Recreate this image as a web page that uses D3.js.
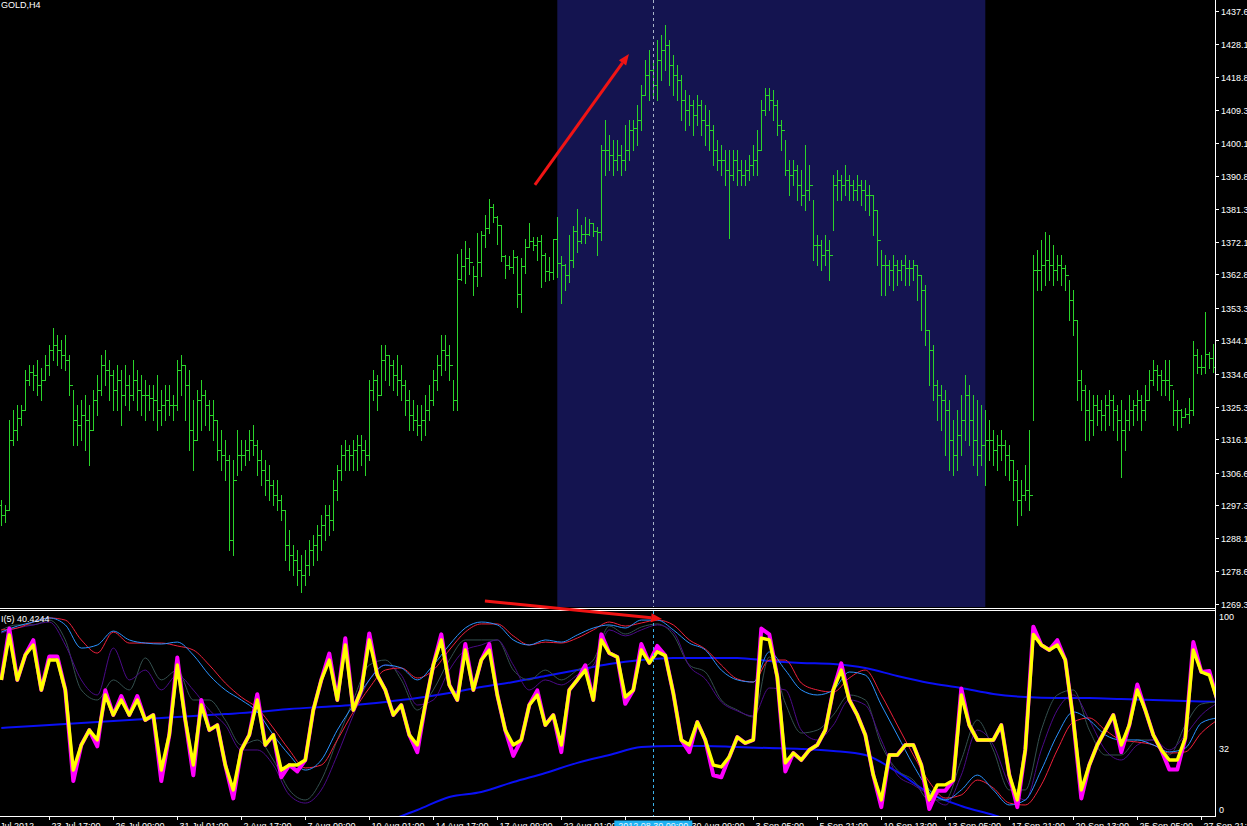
<!DOCTYPE html>
<html>
<head>
<meta charset="utf-8">
<script src="https://cdn.jsdelivr.net/npm/d3@7"></script>
<style>
html, body { margin: 0; padding: 0; background: #000; overflow: hidden; }
svg { display: block; }
text { font-family: "Liberation Sans", Arial, sans-serif; font-size: 9px; fill: #fff; }
</style>
</head>
<body>
<svg id="chart" width="1247" height="826"></svg>
<script>
const symbolTitle = "GOLD,H4";
const indicatorTitle = "I(5) 40.4244";
const crosshairLabel = "2012.08.30 09:00";

const priceTicks = ["1437.6","1428.1","1418.8","1409.3","1400.1","1390.8","1381.3","1372.1","1362.8",
  "1353.3","1344.1","1334.6","1325.3","1316.1","1306.6","1297.3","1288.1","1278.6","1269.3"];
const levelTicks = [100, 32, 0];

const timeLabels = ["19 Jul 2012","23 Jul 17:00","26 Jul 09:00","31 Jul 01:00","2 Aug 17:00","7 Aug 09:00",
  "10 Aug 01:00","14 Aug 17:00","17 Aug 09:00","22 Aug 01:00","27 Aug 17:00","30 Aug 09:00","3 Sep 05:00",
  "5 Sep 21:00","10 Sep 13:00","13 Sep 05:00","17 Sep 21:00","20 Sep 13:00","25 Sep 05:00","27 Sep 21:00"];
const timeTickBars = [-4,12,28,44,60,76,92,108,124,140,156,172,188,204,220,236,252,268,284,300];

const firstOpen = 1297.4;
const barHigh = [
1298.8,1297.4,1321.5,1324.3,1325.7,1325.7,1335.7,1337.1,1337.1,1338.5,
1336.2,1339.9,1342.8,1347.6,1345.6,1344.2,1345.6,1339.9,1330.0,1325.7,
1327.2,1328.6,1325.7,1330.0,1334.3,1339.9,1341.3,1338.5,1335.7,1337.1,
1335.7,1337.1,1334.3,1338.5,1335.7,1334.3,1332.8,1331.4,1331.4,1334.3,
1330.0,1331.4,1331.4,1328.6,1338.5,1339.9,1337.1,1335.7,1327.2,1330.0,
1332.8,1330.0,1327.2,1327.2,1321.5,1318.6,1315.8,1311.6,1310.1,1318.6,
1315.8,1315.8,1318.6,1320.1,1315.8,1313.0,1310.1,1308.7,1304.5,1304.5,
1300.2,1296.0,1290.3,1286.0,1284.6,1283.2,1284.6,1287.4,1288.9,1291.7,
1294.5,1297.4,1297.4,1304.5,1308.7,1314.4,1315.8,1314.4,1315.8,1317.2,
1317.2,1315.8,1332.8,1335.7,1334.3,1342.8,1342.8,1339.9,1338.5,1339.9,
1337.1,1332.8,1330.0,1327.2,1325.7,1325.7,1328.6,1331.4,1335.7,1339.9,
1345.6,1345.6,1342.8,1332.8,1368.6,1370.0,1372.3,1370.3,1365.2,1374.5,
1375.1,1379.6,1384.2,1382.8,1379.4,1376.8,1368.3,1368.0,1369.7,1368.0,
1367.4,1372.8,1377.4,1373.4,1373.4,1374.0,1368.9,1367.7,1372.8,1379.1,
1368.0,1365.7,1374.0,1376.5,1381.3,1376.8,1379.1,1378.5,1377.4,1376.2,
1399.5,1406.6,1402.3,1400.9,1400.9,1399.5,1405.2,1406.6,1406.6,1410.9,
1416.5,1423.6,1426.5,1423.6,1429.3,1430.7,1433.5,1429.3,1425.0,1422.2,
1419.4,1415.1,1413.7,1412.3,1413.7,1412.3,1410.9,1409.4,1405.2,1400.9,
1399.5,1398.1,1398.1,1398.1,1398.1,1395.2,1395.2,1396.7,1399.5,1403.8,
1412.3,1415.7,1415.7,1415.1,1412.3,1406.6,1400.9,1395.2,1395.2,1393.8,
1392.4,1399.5,1393.8,1383.9,1374.0,1372.6,1374.0,1372.6,1391.0,1392.4,
1391.0,1393.8,1391.0,1389.6,1391.0,1389.6,1389.6,1388.2,1385.3,1381.1,
1369.7,1368.3,1366.9,1368.3,1366.9,1366.9,1368.3,1366.9,1366.9,1365.5,
1362.6,1359.8,1347.0,1342.8,1332.8,1331.4,1330.0,1327.2,1321.5,1324.3,
1328.6,1334.3,1331.4,1328.6,1327.2,1325.7,1324.3,1321.5,1318.6,1317.2,
1318.6,1315.8,1314.4,1310.1,1307.3,1304.5,1308.7,1318.6,1368.3,1369.7,
1372.6,1374.8,1374.0,1371.1,1368.3,1368.3,1365.5,1361.2,1358.4,1349.9,
1335.7,1331.4,1330.0,1328.6,1328.6,1327.2,1328.6,1330.0,1328.6,1325.7,
1327.2,1324.3,1328.6,1327.2,1330.0,1328.6,1331.4,1335.7,1338.5,1337.1,
1335.7,1338.5,1338.5,1330.0,1327.2,1324.6,1324.9,1327.7,1343.9,1341.6,
1339.9,1352.1,1340.8,1343.1];
const barLow = [
1291.7,1292.5,1296.0,1314.4,1315.8,1320.1,1324.3,1331.4,1330.0,1328.6,
1327.2,1332.8,1334.3,1338.5,1337.1,1336.2,1335.7,1328.6,1314.4,1314.4,
1315.8,1313.0,1308.7,1318.6,1322.9,1328.6,1331.4,1327.2,1324.3,1324.3,
1320.1,1325.7,1324.3,1327.2,1324.3,1322.9,1321.5,1324.3,1321.5,1318.6,
1320.1,1321.5,1322.9,1321.5,1324.3,1328.6,1321.5,1313.0,1307.3,1315.8,
1318.6,1320.1,1318.6,1315.8,1310.1,1307.3,1304.5,1284.6,1283.2,1305.9,
1307.3,1308.7,1310.1,1311.6,1305.9,1303.0,1300.2,1298.8,1297.4,1296.0,
1293.1,1281.8,1278.9,1277.5,1274.7,1272.7,1274.7,1277.5,1280.4,1281.8,
1284.6,1287.4,1288.9,1290.3,1298.8,1304.5,1307.3,1307.3,1307.3,1307.3,
1308.7,1305.9,1310.1,1327.2,1324.3,1328.6,1332.8,1331.4,1330.0,1328.6,
1327.2,1322.9,1318.6,1318.6,1317.2,1315.8,1317.2,1321.5,1325.7,1330.0,
1334.3,1335.7,1332.8,1324.3,1324.3,1361.2,1360.4,1362.9,1356.9,1359.5,
1362.3,1370.6,1374.5,1377.7,1371.4,1366.6,1361.8,1364.3,1363.2,1353.5,
1352.1,1363.2,1370.6,1369.7,1366.9,1359.2,1360.9,1361.2,1361.5,1362.1,
1354.7,1358.4,1360.6,1364.9,1369.1,1371.7,1371.7,1374.0,1373.7,1368.3,
1372.6,1391.0,1392.4,1391.0,1392.4,1391.0,1392.4,1395.2,1398.1,1399.5,
1403.8,1413.7,1412.3,1413.7,1412.3,1417.9,1420.8,1416.5,1413.7,1412.3,
1406.6,1403.8,1405.2,1402.3,1405.2,1402.3,1399.5,1398.1,1393.8,1392.4,
1391.0,1388.2,1373.1,1389.6,1388.2,1388.2,1388.2,1389.6,1391.0,1391.0,
1398.1,1408.0,1409.4,1406.6,1402.3,1398.1,1391.0,1385.3,1388.2,1383.9,
1382.5,1381.1,1383.9,1366.9,1365.5,1364.0,1365.5,1361.2,1375.4,1383.9,
1383.9,1385.3,1383.9,1383.9,1383.9,1382.5,1381.1,1379.6,1374.0,1365.5,
1356.9,1356.9,1359.8,1358.4,1359.8,1361.2,1359.8,1359.8,1361.2,1355.5,
1347.0,1342.8,1331.4,1327.2,1321.5,1318.6,1311.6,1307.3,1305.9,1307.3,
1311.6,1315.8,1314.4,1308.7,1305.9,1308.7,1303.0,1310.1,1308.7,1307.3,
1310.1,1305.9,1304.5,1298.8,1291.7,1294.5,1298.8,1296.0,1321.5,1358.4,
1358.4,1359.8,1361.2,1359.8,1361.2,1359.8,1358.4,1349.9,1345.6,1327.2,
1324.3,1315.8,1315.8,1317.2,1320.1,1318.6,1318.6,1320.1,1318.6,1315.8,
1305.3,1313.0,1318.6,1320.1,1321.5,1318.6,1321.5,1327.2,1331.4,1330.0,
1328.6,1328.6,1327.2,1320.1,1318.6,1319.5,1322.3,1320.6,1322.9,1334.8,
1334.5,1334.8,1336.2,1335.1];
const barClose = [
1294.5,1296.0,1315.8,1318.6,1322.0,1324.3,1332.8,1335.1,1334.3,1331.4,
1332.8,1337.1,1341.3,1342.8,1341.3,1339.9,1338.5,1331.4,1321.5,1320.1,
1322.9,1321.5,1318.6,1327.2,1330.0,1337.1,1335.7,1334.3,1330.0,1332.8,
1328.6,1331.4,1328.6,1332.8,1330.0,1328.6,1328.6,1327.7,1327.2,1324.3,
1325.7,1327.2,1325.7,1325.7,1335.7,1337.1,1331.4,1318.6,1315.8,1327.2,
1328.6,1325.7,1322.9,1321.5,1313.0,1311.6,1310.1,1287.4,1304.5,1311.6,
1311.6,1313.0,1315.8,1314.4,1310.1,1307.3,1304.5,1303.0,1300.2,1298.8,
1296.0,1286.0,1283.2,1281.8,1278.9,1277.5,1280.4,1284.6,1286.0,1288.9,
1291.7,1294.5,1293.1,1301.6,1307.3,1311.6,1313.0,1311.6,1313.0,1314.4,
1313.0,1311.6,1330.0,1332.8,1328.6,1338.5,1339.9,1337.1,1334.3,1332.8,
1331.4,1327.2,1322.9,1321.5,1320.1,1321.5,1324.3,1327.2,1332.8,1337.1,
1341.3,1339.9,1337.1,1327.2,1361.5,1365.2,1367.4,1366.3,1362.3,1366.3,
1374.0,1375.9,1381.9,1379.1,1376.8,1368.0,1365.5,1364.9,1367.7,1357.2,
1365.2,1370.6,1372.3,1371.1,1372.3,1368.3,1363.8,1363.5,1372.8,1366.0,
1365.5,1362.6,1366.9,1375.1,1372.3,1374.2,1374.2,1377.4,1375.1,1374.8,
1398.1,1398.1,1396.7,1395.2,1396.7,1395.2,1398.1,1403.8,1404.3,1406.6,
1413.7,1419.4,1420.8,1416.5,1423.6,1426.5,1427.9,1422.2,1419.4,1417.9,
1412.3,1409.4,1410.9,1408.0,1410.9,1406.6,1405.2,1403.8,1398.1,1395.2,
1395.2,1392.4,1391.0,1395.2,1392.4,1391.0,1392.4,1393.8,1395.2,1398.1,
1409.4,1413.7,1412.3,1410.9,1405.2,1403.8,1392.4,1391.0,1392.4,1388.2,
1385.3,1386.7,1388.2,1371.1,1371.1,1368.3,1369.7,1368.3,1388.2,1389.6,
1388.2,1389.6,1388.2,1386.7,1388.2,1386.7,1385.3,1385.3,1381.1,1372.6,
1365.5,1365.5,1364.0,1365.5,1364.0,1365.5,1364.6,1364.6,1365.5,1362.6,
1358.4,1347.0,1341.3,1331.4,1328.6,1327.2,1324.3,1315.8,1311.6,1317.2,
1321.5,1328.6,1321.5,1315.8,1311.6,1314.4,1315.8,1315.8,1313.0,1314.4,
1314.4,1311.6,1310.1,1304.5,1298.8,1300.2,1301.6,1300.2,1364.0,1364.0,
1365.5,1366.9,1365.5,1364.0,1365.5,1364.6,1362.6,1355.5,1349.9,1332.8,
1330.0,1324.3,1321.5,1325.7,1324.3,1322.9,1325.7,1327.2,1324.3,1321.5,
1318.6,1321.5,1324.3,1325.7,1327.2,1324.3,1327.2,1332.8,1335.7,1334.3,
1332.8,1332.8,1331.4,1324.3,1324.3,1322.3,1323.2,1324.3,1339.9,1336.5,
1336.5,1340.2,1339.1,1336.5];

// oscillator panel, one value every 2 bars
const tdiYellow = [
67.4,90.7,67.4,80.3,85.5,62.2,77.7,77.7,62.2,20.7,
33.7,41.4,36.3,59.6,49.2,57.0,49.2,57.0,46.6,49.2,
20.7,38.9,75.1,46.6,23.3,54.4,41.4,44.0,23.3,10.4,
31.1,38.9,57.0,33.7,38.9,20.7,23.3,23.3,25.9,51.8,
67.4,77.7,57.0,85.5,51.8,62.2,88.1,69.9,62.2,49.2,
54.4,38.9,33.7,54.4,75.1,88.1,64.8,57.0,82.9,62.2,
77.7,82.9,59.6,41.4,33.7,36.3,54.4,59.6,44.0,49.2,
33.7,62.2,67.4,72.5,57.0,88.1,81.3,79.3,58.5,62.2,
82.9,76.2,82.0,80.0,60.6,36.3,33.7,45.6,36.3,23.3,
22.3,27.5,37.8,34.7,36.3,89.1,88.1,68.9,24.4,29.5,
25.9,31.1,33.7,41.4,62.2,72.5,57.0,49.2,38.9,18.1,
5.2,28.5,28.5,33.7,33.7,23.3,5.2,13.0,13.0,15.5,
59.6,44.0,36.3,36.3,36.3,44.0,18.1,5.2,31.1,91.0,
85.5,82.9,85.5,77.7,46.6,10.4,23.3,33.7,41.4,49.2,
33.7,44.0,62.2,51.8,38.9,31.1,25.9,25.9,37.3,82.9,
71.5,69.9,57.0];
const tdiMagenta = [
67.4,94.0,67.4,80.3,88.0,62.2,79.5,79.5,62.2,15.0,
33.7,41.4,33.0,62.0,49.2,59.0,49.2,59.0,46.6,49.2,
15.0,38.9,79.0,46.6,18.0,57.0,41.4,44.0,23.3,6.0,
31.1,38.9,60.0,33.7,38.9,17.0,23.3,20.0,25.9,51.8,
67.4,81.0,57.0,89.0,51.8,62.2,91.5,69.9,62.2,49.2,
54.4,38.9,30.0,54.4,75.1,91.0,64.8,57.0,86.0,62.2,
77.7,86.0,59.6,41.4,28.0,36.3,54.4,62.0,44.0,49.2,
30.0,62.2,67.4,75.0,57.0,91.0,81.3,79.3,55.0,62.2,
86.0,76.2,85.0,80.0,60.6,36.3,30.0,45.6,36.3,18.0,
17.0,27.5,37.8,34.7,36.3,94.0,91.0,68.9,20.0,29.5,
25.9,31.1,33.7,41.4,62.2,76.0,57.0,49.2,38.9,18.1,
1.5,28.5,28.5,33.7,33.7,23.3,0.5,10.0,10.0,15.5,
63.0,44.0,36.3,36.3,36.3,44.0,18.1,1.5,31.1,95.0,
85.5,82.9,88.0,77.7,46.6,6.0,23.3,33.7,41.4,49.2,
30.0,44.0,65.0,51.8,38.9,31.1,21.0,21.0,37.3,87.0,
71.5,72.0,57.0];

// thin signal lines, one value every 4 bars
const lineBlue = [
92.2,95.3,97.4,99.5,95.9,83.9,85.5,92.7,88.1,86.5,86.0,87.0,80.3,69.9,62.2,57.0,50.8,38.9,28.5,20.7,
25.9,41.4,54.4,67.4,75.1,73.6,67.4,75.1,85.5,94.3,97.4,95.9,88.1,85.5,88.1,87.0,90.7,94.3,
95.9,94.3,98.4,98.4,93.3,86.5,82.9,72.5,67.4,66.3,81.9,72.5,62.2,59.6,62.2,71.5,69.9,54.4,38.9,23.3,
10.4,5.2,10.4,18.1,10.4,2.6,5.2,20.7,38.9,50.8,46.6,38.9,36.3,36.3,33.7,30.1,32.1,45.1,47.7];
const lineRed = [
93.3,94.3,97.4,99.5,98.4,88.1,81.3,92.2,86.5,86.5,86.5,85.0,82.9,75.1,65.8,58.5,52.8,42.5,31.1,21.8,
23.3,36.3,50.8,63.2,72.5,73.6,68.4,72.5,82.9,92.2,96.4,96.4,90.2,85.5,87.0,86.5,89.1,93.3,
97.4,95.3,96.9,98.4,95.9,88.1,83.4,75.1,67.9,66.3,77.7,77.7,65.8,62.2,61.1,68.4,72.5,59.6,44.0,28.5,
14.5,6.2,7.8,15.5,11.4,3.6,2.6,13.0,31.1,45.6,47.7,41.4,36.3,35.2,33.7,29.5,30.1,39.9,46.6];
const lineGray = [
93.3,95.9,95.9,98.4,88.1,62.2,57.0,67.4,62.2,78.8,67.4,72.5,57.0,57.0,46.6,33.7,36.3,25.9,10.4,5.2,
15.5,36.3,57.0,75.1,77.7,67.4,51.8,62.2,77.7,88.1,88.1,88.1,72.5,67.4,72.5,67.4,72.5,77.7,
95.3,91.2,94.8,96.4,90.7,75.1,71.5,57.0,51.8,48.2,79.3,55.4,39.9,41.4,49.2,59.6,57.0,33.7,20.7,15.5,
5.2,5.2,25.9,46.6,31.1,10.4,10.4,41.4,59.6,62.2,41.4,28.5,28.5,36.3,36.3,28.5,44.0,54.9,56.0];
const linePurple = [
91.7,94.3,95.9,97.4,85.5,67.4,59.6,83.9,67.4,72.5,62.2,69.9,62.2,51.8,44.0,31.1,31.1,23.3,7.8,3.6,
10.4,28.5,49.2,67.4,75.1,69.9,54.4,57.0,72.5,82.9,85.5,88.1,75.1,62.2,67.4,64.8,69.9,75.1,
93.3,90.2,93.3,95.9,92.2,74.6,67.9,56.0,51.3,48.7,63.2,62.2,41.4,36.3,44.0,57.0,54.4,36.3,18.1,13.0,
7.8,2.6,18.1,41.4,33.7,13.0,5.2,31.1,51.8,59.6,46.6,31.1,25.9,33.7,36.3,31.1,38.9,49.2,55.4];

// slow bands, one value every 8 bars
const bandUpper = [42.5,43.5,44.6,45.6,46.6,47.7,48.7,49.7,50.8,52.3,53.4,54.4,56.0,58.0,60.6,63.7,66.3,69.4,72.5,75.6,
  77.7,78.8,78.8,78.8,77.2,76.2,75.6,73.6,69.4,65.8,63.2,60.1,58.5,58.0,58.0,57.5,57.0,56.5,56.0];
const bandLower = [null,null,null,null,null,null,null,null,null,null,null,null,
  -6.2,0,6.7,9.3,14.5,19.2,24.4,28.5,32.6,33.2,33.2,32.6,32.1,31.6,30.6,28.5,19.7,8.8,2.1,-2.6,-7.8,
  null,null,null,null,null,null];

const shadeBars = [139, 246];
const crossBar = 163;
const arrowNotes = [
  { panel: "price", from: [133.4, 1388.2], to: [156.9, 1425.3] },
  { panel: "osc", from: [120.9, 108.3], to: [165.2, 99.0] }
];

// ---- layout ----
const W = 1247, H = 826;
const plotRight = 1215;
const priceBottom = 607, oscTop = 611, oscBottom = 816;

const svg = d3.select("#chart");
svg.append("rect").attr("width", W).attr("height", H).attr("fill", "#000");

const x = d3.scaleLinear().domain([0, 303]).range([1.3, 1213.3]);
const y = d3.scaleLinear().domain([1269.3, 1437.6]).range([604, 10.7]);
const yo = d3.scaleLinear().domain([0, 100]).range([810, 617]);

const defs = svg.append("defs");
defs.append("clipPath").attr("id", "clipPrice").append("rect")
  .attr("x", 0).attr("y", 0).attr("width", plotRight).attr("height", priceBottom);
defs.append("clipPath").attr("id", "clipOsc").append("rect")
  .attr("x", 0).attr("y", oscTop).attr("width", plotRight).attr("height", oscBottom - oscTop);

// ---- price panel ----
const pricePanel = svg.append("g").attr("clip-path", "url(#clipPrice)");

pricePanel.append("rect")
  .attr("x", x(shadeBars[0])).attr("y", 0)
  .attr("width", x(shadeBars[1]) - x(shadeBars[0]))
  .attr("height", priceBottom)
  .attr("fill", "#141450");

const bars = barClose.map((c, i) => ({
  i: i, open: i === 0 ? firstOpen : barClose[i - 1], high: barHigh[i], low: barLow[i], close: c
}));
const crisp = v => Math.round(v) + 0.5;

const barG = pricePanel.append("g").attr("stroke", "#2ad42a").attr("stroke-width", 1);
barG.selectAll(".hl").data(bars).enter().append("line")
  .attr("class", "hl")
  .attr("x1", d => crisp(x(d.i))).attr("x2", d => crisp(x(d.i)))
  .attr("y1", d => Math.round(y(d.high))).attr("y2", d => Math.round(y(d.low)) + 1);
barG.selectAll(".op").data(bars).enter().append("line")
  .attr("class", "op")
  .attr("x1", d => Math.round(x(d.i)) - 2).attr("x2", d => Math.round(x(d.i)))
  .attr("y1", d => crisp(y(d.open))).attr("y2", d => crisp(y(d.open)));
barG.selectAll(".cl").data(bars).enter().append("line")
  .attr("class", "cl")
  .attr("x1", d => Math.round(x(d.i)) + 1).attr("x2", d => Math.round(x(d.i)) + 3)
  .attr("y1", d => crisp(y(d.close))).attr("y2", d => crisp(y(d.close)));

pricePanel.append("line")
  .attr("x1", crisp(x(crossBar))).attr("x2", crisp(x(crossBar)))
  .attr("y1", 0).attr("y2", priceBottom)
  .attr("stroke", "#a8b4c8").attr("stroke-dasharray", "3,3");

// ---- oscillator panel ----
const osc = svg.append("g").attr("clip-path", "url(#clipOsc)");

function series(vals, step) {
  return vals.map((v, j) => ({ i: j * step, v: v }));
}
const smoothLine = d3.line()
  .defined(d => d.v !== null)
  .x(d => x(d.i)).y(d => yo(d.v))
  .curve(d3.curveMonotoneX);
const sharpLine = d3.line()
  .x(d => x(d.i)).y(d => yo(d.v));

const layers = [
  { data: series(bandUpper, 8), color: "#0a10f5", width: 2, gen: smoothLine },
  { data: series(bandLower, 8), color: "#0a10f5", width: 2, gen: smoothLine },
  { data: series(lineGray, 4), color: "#34504f", width: 1, gen: smoothLine },
  { data: series(linePurple, 4), color: "#4b0a88", width: 1, gen: smoothLine },
  { data: series(lineRed, 4), color: "#f0203c", width: 1, gen: smoothLine },
  { data: series(lineBlue, 4), color: "#2a92ff", width: 1, gen: smoothLine },
  { data: series(tdiMagenta, 2), color: "#ff00ff", width: 4, gen: sharpLine },
  { data: series(tdiYellow, 2), color: "#ffff00", width: 3.4, gen: sharpLine }
];
layers.forEach(l => {
  osc.append("path")
    .datum(l.data)
    .attr("d", l.gen)
    .attr("fill", "none")
    .attr("stroke", l.color)
    .attr("stroke-width", l.width)
    .attr("stroke-linejoin", "round");
});

osc.append("line")
  .attr("x1", crisp(x(crossBar))).attr("x2", crisp(x(crossBar)))
  .attr("y1", oscTop).attr("y2", oscBottom)
  .attr("stroke", "#3ab2ea").attr("stroke-dasharray", "3,3");

osc.append("text").attr("x", 1).attr("y", 622).text(indicatorTitle);

// ---- frames and axes ----
const frame = svg.append("g").attr("stroke", "#fff").attr("stroke-width", 1);
frame.append("line").attr("x1", 0).attr("x2", plotRight).attr("y1", 608.5).attr("y2", 608.5);
frame.append("line").attr("x1", 0).attr("x2", plotRight).attr("y1", 610.5).attr("y2", 610.5);
frame.append("line").attr("x1", 0).attr("x2", plotRight + 1).attr("y1", oscBottom + 0.5).attr("y2", oscBottom + 0.5);
frame.append("line").attr("x1", plotRight + 0.5).attr("x2", plotRight + 0.5).attr("y1", 0).attr("y2", oscBottom + 1);

const priceAxis = svg.append("g");
priceTicks.forEach(t => {
  const yy = Math.round(y(+t)) + 0.5;
  priceAxis.append("line").attr("x1", plotRight + 1).attr("x2", plotRight + 4)
    .attr("y1", yy).attr("y2", yy).attr("stroke", "#fff");
  priceAxis.append("text").attr("x", plotRight + 6).attr("y", yy + 3.3).text(t);
});

const oscAxis = svg.append("g");
levelTicks.forEach(t => {
  oscAxis.append("text").attr("x", plotRight + 4).attr("y", yo(t) + 3.3).text(t);
});

const timeAxis = svg.append("g");
timeTickBars.forEach((b, k) => {
  const xx = crisp(x(b));
  timeAxis.append("line").attr("x1", xx).attr("x2", xx)
    .attr("y1", oscBottom + 1).attr("y2", oscBottom + 4).attr("stroke", "#fff");
  timeAxis.append("text").attr("x", xx + 2).attr("y", 829).text(timeLabels[k]);
});

const cx = x(crossBar);
timeAxis.append("rect").attr("x", cx - 39).attr("y", 820.5).attr("width", 78).attr("height", 6)
  .attr("fill", "#1cb0f0");
timeAxis.append("text").attr("x", cx).attr("y", 829).attr("text-anchor", "middle")
  .style("fill", "#e6f6ff").text(crosshairLabel);

svg.append("text").attr("x", 1).attr("y", 8).text(symbolTitle);

// ---- red arrows ----
const arrowG = svg.append("g");
arrowNotes.forEach(a => {
  const sy = a.panel === "price" ? y : yo;
  const x0 = x(a.from[0]), y0 = sy(a.from[1]);
  const x1 = x(a.to[0]), y1 = sy(a.to[1]);
  const ang = Math.atan2(y1 - y0, x1 - x0);
  const hl = 11, hw = 4.5;
  const bx = x1 - hl * Math.cos(ang), by = y1 - hl * Math.sin(ang);
  arrowG.append("line").attr("x1", x0).attr("y1", y0).attr("x2", bx).attr("y2", by)
    .attr("stroke", "#f01414").attr("stroke-width", 3);
  const pts = [[x1, y1],
    [bx + hw * Math.sin(ang), by - hw * Math.cos(ang)],
    [bx - hw * Math.sin(ang), by + hw * Math.cos(ang)]];
  arrowG.append("polygon").attr("points", pts.map(p => p.join(",")).join(" "))
    .attr("fill", "#f01414");
});
</script>
</body>
</html>
